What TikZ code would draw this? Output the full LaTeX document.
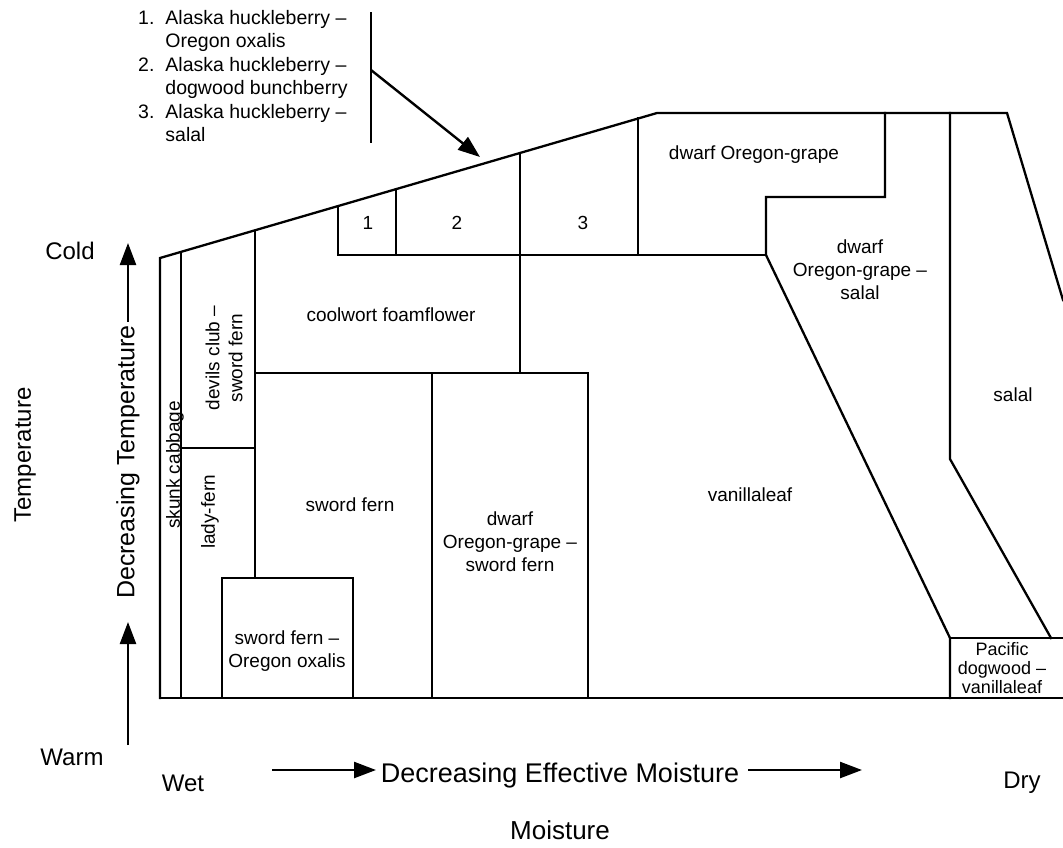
\documentclass[tikz,border=0pt]{standalone}
\usepackage{fontspec}
\setmainfont{Liberation Sans}
\usetikzlibrary{arrows.meta}
\begin{document}
\begin{tikzpicture}[x=1pt,y=-1pt,
  wall/.style={line width=2.3pt, line join=miter, line cap=rect},
  thinwall/.style={line width=1.8pt, line cap=rect},
  lbl/.style={inner sep=0pt, align=center, font=\fontsize{19}{23}\selectfont},
  small/.style={inner sep=0pt, align=center, font=\fontsize{18}{19}\selectfont},
  axis/.style={inner sep=0pt, font=\fontsize{24}{28}\selectfont},
  big/.style={inner sep=0pt, font=\fontsize{27}{30}\selectfont},
  arr/.style={line width=2.4pt, -{Triangle[length=22pt,width=16pt]}},
]
\useasboundingbox (0,0) rectangle (1063,847);

% outer outline
\draw[wall] (160,698) -- (160,258) -- (657,113) -- (1007,113) -- (1063,300);
\draw[wall] (160,698) -- (1063,698);

% left strips
\draw[thinwall] (181,252) -- (181,698);
\draw[wall] (255,232) -- (255,578);
\draw[wall] (181,448) -- (255,448);
\draw[wall] (222,698) -- (222,578) -- (353,578) -- (353,698);

% middle blocks
\draw[wall] (255,373) -- (588,373) -- (588,698);
\draw[thinwall] (432,373) -- (432,698);
\draw[wall] (520,153) -- (520,373);

% top row 1,2,3
\draw[wall] (338,207) -- (338,255) -- (766,255);
\draw[thinwall] (396,189) -- (396,255);
\draw[wall] (638,118) -- (638,255);

% dwarf Oregon-grape and salal zones
\draw[wall] (885,113) -- (885,197) -- (766,197) -- (766,255) -- (950,638) -- (950,698);
\draw[wall] (950,638) -- (1063,638);
\draw[wall] (950,113) -- (950,459) -- (1051,638);

% region labels
\node[lbl] (n1) at (368,223) {1};
\node[lbl] (n2) at (457,223) {2};
\node[lbl] (n3) at (583,223) {3};
\node[lbl] (dog) at (754,155) {dwarf Oregon-grape};
\node[lbl] (dogs) at (860,270) {dwarf\\Oregon-grape --\\salal};
\node[lbl] (cool) at (391,315) {coolwort foamflower};
\node[lbl, rotate=90] (dcsf) at (224,358) {devils club --\\sword fern};
\node[lbl, rotate=90] (skunk) at (175,465) {skunk cabbage};
\node[lbl, rotate=90] (lady) at (210,512) {lady-fern};
\node[lbl] (sf) at (350,505) {sword fern};
\node[lbl] (sfoo) at (287,651) {sword fern --\\Oregon oxalis};
\node[lbl] (dogsf) at (510,542) {dwarf\\Oregon-grape --\\sword fern};
\node[lbl] (vl) at (750,495) {vanillaleaf};
\node[lbl] (salal) at (1013,395) {salal};
\node[small] (pdv) at (1002,668) {Pacific\\dogwood --\\vanillaleaf};

% legend
\node[anchor=base west, inner sep=0pt, font=\fontsize{19.5}{23.5}\selectfont] (legend) at (138,24)
  {\begin{tabular}[t]{@{}l@{\hspace{11pt}}l@{}}
   1. & Alaska huckleberry --\\
      & Oregon oxalis\\
   2. & Alaska huckleberry --\\
      & dogwood bunchberry\\
   3. & Alaska huckleberry --\\
      & salal
   \end{tabular}};
\coordinate (bartop) at (371,12);
\coordinate (barbot) at (371,143);
\coordinate (barmid) at (371,70);
\coordinate (legtip) at (480,157);
\draw[line width=2pt] (bartop) -- (barbot);
\draw[arr] (barmid) -- (legtip);

% temperature axis
\node[axis] (cold) at (70,251) {Cold};
\node[axis] (warm) at (72,757) {Warm};
\node[axis, rotate=90] (temp) at (25,455) {Temperature};
\node[axis, rotate=90, font=\fontsize{25}{28}\selectfont] (dtemp) at (128,462) {Decreasing Temperature};
\coordinate (coldtip) at (128,243);
\coordinate (dtop) at (128,322);
\coordinate (warmbase) at (128,745);
\coordinate (warmtip) at (128,622);
\draw[arr] (dtop) -- (coldtip);
\draw[arr] (warmbase) -- (warmtip);

% moisture axis
\node[axis] (wet) at (183,783) {Wet};
\node[axis] (dry) at (1022,783) {Dry};
\node[big] (dem) at (560,776) {Decreasing Effective Moisture};
\node[big, font=\fontsize{26}{30}\selectfont] (moist) at (560,830) {Moisture};
\coordinate (a1s) at (272,770);
\coordinate (a1e) at (376,770);
\coordinate (a2s) at (748,770);
\coordinate (a2e) at (862,770);
\draw[arr] (a1s) -- (a1e);
\draw[arr] (a2s) -- (a2e);
\end{tikzpicture}
\end{document}
